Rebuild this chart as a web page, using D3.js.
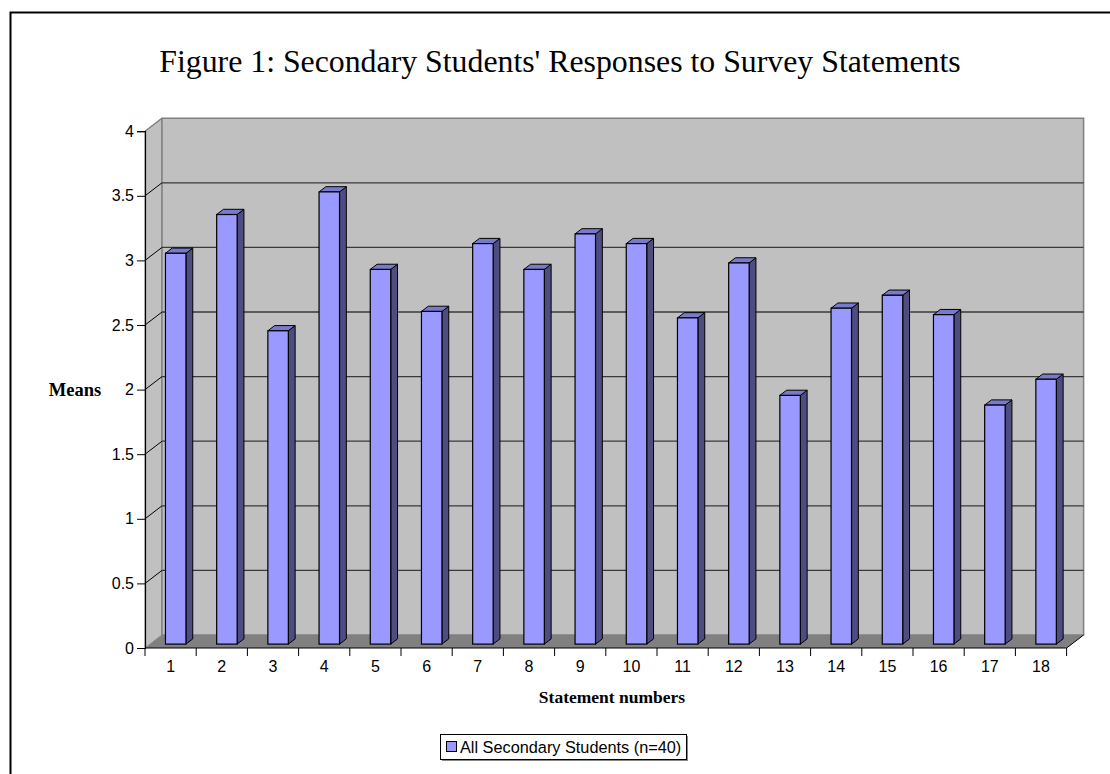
<!DOCTYPE html>
<html>
<head>
<meta charset="utf-8">
<script src="https://cdnjs.cloudflare.com/ajax/libs/d3/7.8.5/d3.min.js"></script>
<style>
  html, body { margin: 0; padding: 0; background: #fff; }
  svg { display: block; }
</style>
</head>
<body>
<svg id="chart" width="1110" height="774"></svg>
<script>
// Survey statement numbers and mean responses
const statements = ["1","2","3","4","5","6","7","8","9","10","11","12","13","14","15","16","17","18"];
const means = [3.025, 3.325, 2.425, 3.5, 2.9, 2.575, 3.1, 2.9, 3.175, 3.1, 2.525, 2.95, 1.925, 2.6, 2.7, 2.55, 1.85, 2.05];
const yTicks = [0, 0.5, 1, 1.5, 2, 2.5, 3, 3.5, 4];
const seriesName = "All Secondary Students (n=40)";
const chartTitle = "Figure 1: Secondary Students' Responses to Survey Statements";

const svg = d3.select("#chart");

// Frame of the 3-D plot: front plane of the floor and its depth offset
const plotLeft = 145, plotRight = 1066.6, plotBottom = 648, plotTop = 131.2;
const depthX = 17, depthY = -13;

const x = d3.scaleBand().domain(statements).range([plotLeft, plotRight]).padding(0);
const y = d3.scaleLinear().domain([0, 4]).range([plotBottom, plotTop]);

// Outer chart border
svg.append("rect")
  .attr("x", 10.5).attr("y", 12.5)
  .attr("width", 1120).attr("height", 800)
  .attr("fill", "#fff").attr("stroke", "#000").attr("stroke-width", 2);

// Title
svg.append("text")
  .attr("x", 560).attr("y", 72)
  .attr("text-anchor", "middle")
  .attr("font-family", "'Liberation Serif', 'Times New Roman', serif")
  .attr("font-size", 31.8)
  .text(chartTitle);

const pts = p => p.map(d => d.join(",")).join(" ");
const yBack = v => y(v) + depthY;

// Left side wall
svg.append("polygon")
  .attr("points", pts([[plotLeft, y(4)], [plotLeft + depthX, yBack(4)], [plotLeft + depthX, yBack(0)], [plotLeft, y(0)]]))
  .attr("fill", "#c0c0c0").attr("stroke", "#808080").attr("stroke-width", 1);

// Back wall
svg.append("polygon")
  .attr("points", pts([[plotLeft + depthX, yBack(4)], [plotRight + depthX, yBack(4)], [plotRight + depthX, yBack(0)], [plotLeft + depthX, yBack(0)]]))
  .attr("fill", "#c0c0c0").attr("stroke", "#808080").attr("stroke-width", 1.5);

// Floor
svg.append("polygon")
  .attr("points", pts([[plotLeft, y(0)], [plotRight, y(0)], [plotRight + depthX, yBack(0)], [plotLeft + depthX, yBack(0)]]))
  .attr("fill", "#808080");

// Gridlines: diagonal on the side wall, horizontal on the back wall
const grid = yTicks.filter(v => v > 0 && v < 4);
svg.append("g").selectAll("line").data(grid).join("line")
  .attr("x1", plotLeft).attr("y1", d => y(d))
  .attr("x2", plotLeft + depthX).attr("y2", d => yBack(d))
  .attr("stroke", "#000").attr("stroke-width", 1);
svg.append("g").selectAll("line").data(grid).join("line")
  .attr("x1", plotLeft + depthX).attr("y1", d => yBack(d))
  .attr("x2", plotRight + depthX).attr("y2", d => yBack(d))
  .attr("stroke", "#3a3a3a").attr("stroke-width", 1.3);
// Top edge of the side wall
svg.append("line")
  .attr("x1", plotLeft).attr("y1", y(4)).attr("x2", plotLeft + depthX).attr("y2", yBack(4))
  .attr("stroke", "#808080").attr("stroke-width", 1.2);

// Bars as boxes: front, side and top faces
const bw = x.bandwidth() * 0.4;
const f0 = 0.3, f1 = 0.7; // depth range of the boxes within the floor
const bars = svg.append("g").selectAll("g").data(statements.map((s, i) => ({ s, v: means[i] }))).join("g");
bars.each(function (d) {
  const g = d3.select(this);
  const cx = x(d.s) + x.bandwidth() / 2;
  const ax = cx - bw / 2 + depthX * f0, bx = cx + bw / 2 + depthX * f0;
  const yt = y(d.v) + depthY * f0, yb = y(0) + depthY * f0;
  const ddx = depthX * (f1 - f0), ddy = depthY * (f1 - f0);
  g.append("polygon")
    .attr("points", pts([[bx, yt], [bx + ddx, yt + ddy], [bx + ddx, yb + ddy], [bx, yb]]))
    .attr("fill", "#4d4d80").attr("stroke", "#000").attr("stroke-width", 1).attr("stroke-linejoin", "round");
  g.append("polygon")
    .attr("points", pts([[ax, yt], [ax + ddx, yt + ddy], [bx + ddx, yt + ddy], [bx, yt]]))
    .attr("fill", "#7a7acc").attr("stroke", "#000").attr("stroke-width", 1).attr("stroke-linejoin", "round");
  g.append("rect")
    .attr("x", ax).attr("y", yt).attr("width", bx - ax).attr("height", yb - yt)
    .attr("fill", "#9999ff").attr("stroke", "#000").attr("stroke-width", 1.2);
});

// Right end of the floor edge
svg.append("line")
  .attr("x1", plotRight).attr("y1", y(0)).attr("x2", plotRight + depthX).attr("y2", yBack(0))
  .attr("stroke", "#000").attr("stroke-width", 1);

// Value axis
const yAxis = svg.append("g")
  .attr("transform", `translate(${plotLeft},0)`)
  .call(d3.axisLeft(y).tickValues(yTicks).tickSize(8).tickPadding(3).tickFormat(d3.format("")));
yAxis.select(".domain").attr("stroke", "#000").attr("stroke-width", 1.2);
yAxis.selectAll("text")
  .attr("font-family", "'Liberation Sans', Arial, sans-serif")
  .attr("font-size", 16).attr("fill", "#000");

// Category axis: labels centred in bands, tick marks on band edges
const xAxis = svg.append("g")
  .attr("transform", `translate(0,${plotBottom})`)
  .call(d3.axisBottom(x).tickSize(0).tickPadding(13));
xAxis.select(".domain").remove();
xAxis.selectAll("text")
  .attr("font-family", "'Liberation Sans', Arial, sans-serif")
  .attr("font-size", 16).attr("fill", "#000");
svg.append("line")
  .attr("x1", plotLeft).attr("y1", plotBottom).attr("x2", plotRight).attr("y2", plotBottom)
  .attr("stroke", "#000").attr("stroke-width", 1.2);
const edges = statements.map(s => x(s)).concat([plotRight]);
svg.append("g").selectAll("line").data(edges).join("line")
  .attr("x1", d => d).attr("x2", d => d)
  .attr("y1", plotBottom).attr("y2", plotBottom + 8)
  .attr("stroke", "#000").attr("stroke-width", 1);

// Axis titles
svg.append("text")
  .attr("x", 75).attr("y", 396)
  .attr("text-anchor", "middle")
  .attr("font-family", "'Liberation Serif', 'Times New Roman', serif")
  .attr("font-weight", "bold").attr("font-size", 18.5)
  .text("Means");
svg.append("text")
  .attr("x", 612).attr("y", 703)
  .attr("text-anchor", "middle")
  .attr("font-family", "'Liberation Serif', 'Times New Roman', serif")
  .attr("font-weight", "bold").attr("font-size", 17.5)
  .text("Statement numbers");

// Legend
const lg = svg.append("g");
lg.append("rect").attr("x", 442).attr("y", 736).attr("width", 246).attr("height", 25).attr("fill", "#888");
lg.append("rect").attr("x", 440.5).attr("y", 734.5).attr("width", 246).attr("height", 25)
  .attr("fill", "#fff").attr("stroke", "#000").attr("stroke-width", 1);
lg.append("rect").attr("x", 446.5).attr("y", 741.5).attr("width", 10).attr("height", 10)
  .attr("fill", "#9999ff").attr("stroke", "#000").attr("stroke-width", 1);
lg.append("text").attr("x", 460).attr("y", 753)
  .attr("font-family", "'Liberation Sans', Arial, sans-serif")
  .attr("font-size", 16.3).attr("fill", "#000")
  .text(seriesName);
</script>
</body>
</html>
